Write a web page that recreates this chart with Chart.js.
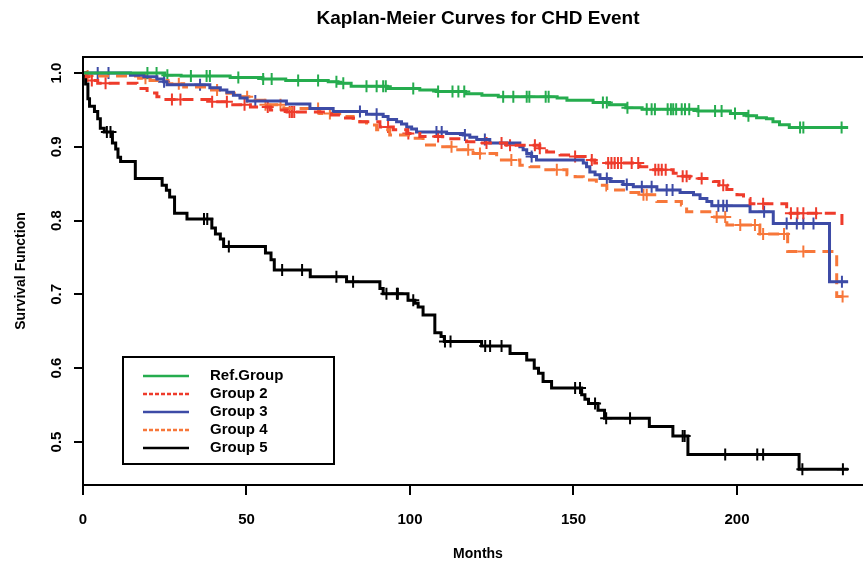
<!DOCTYPE html>
<html>
<head>
<meta charset="utf-8">
<title>Kaplan-Meier Curves for CHD Event</title>
<script src="https://cdn.jsdelivr.net/npm/chart.js@4.4.1/dist/chart.umd.min.js"></script>
<style>
  html, body { margin: 0; padding: 0; background: #fff; overflow: hidden; }
  canvas { display: block; }
</style>
</head>
<body>
<canvas id="kmChart" width="900" height="564"></canvas>
<script>
// tick labels
const xTicks = [0, 50, 100, 150, 200];
const yTicks = [0.5, 0.6, 0.7, 0.8, 0.9, 1.0];

const groupNames = ["Ref.Group", "Group 2", "Group 3", "Group 4", "Group 5"];

// Ref.Group: event times (months), survival after each event, censor times
const refTime = [0, 25, 30, 45, 55, 62, 75, 78, 82, 93, 103, 108, 117, 122, 127, 145, 148, 156, 161, 166, 171, 188, 198, 203, 206, 209, 211, 213, 216, 234];
const refSurv = [1.0, 0.997, 0.996, 0.994, 0.992, 0.990, 0.988, 0.986, 0.982, 0.979, 0.977, 0.975, 0.972, 0.970, 0.968, 0.966, 0.963, 0.960, 0.957, 0.953, 0.951, 0.9485, 0.945, 0.942, 0.9395, 0.938, 0.934, 0.930, 0.926, 0.926];
const refCens = [19.7, 22.5, 25.8, 33, 37.8, 38.8, 47.5, 55.1, 57.7, 65.8, 71.9, 77.5, 79.6, 86.7, 89.8, 91.8, 92.6, 101, 108.6, 113, 114.8, 116.6, 128.5, 131.6, 135.7, 136.5, 141.5, 142.4, 159, 160.2, 166.5, 172.4, 173.9, 174.9, 178.8, 179.8, 180.5, 181.4, 183.1, 184.1, 185.4, 188.2, 193.3, 195.3, 199.4, 203.5, 219.3, 220.3, 232];

// Group 2
const g2Time = [0, 1, 2.5, 4.5, 16.5, 19.6, 22.6, 24.7, 39, 44.5, 51.2, 57.3, 62.4, 76, 79.6, 84.7, 90.8, 94.9, 99, 103, 110, 117.3, 121.4, 129.6, 139.7, 141.8, 145.9, 149, 154.5, 156.5, 170.3, 173, 180.5, 183, 185.6, 192.8, 194.5, 196.9, 200, 202, 204, 215.2, 232.1];
const g2Surv = [1, 0.995, 0.99, 0.986, 0.979, 0.973, 0.968, 0.964, 0.961, 0.957, 0.954, 0.950, 0.947, 0.943, 0.939, 0.934, 0.927, 0.923, 0.918, 0.914, 0.911, 0.907, 0.905, 0.902, 0.898, 0.893, 0.889, 0.887, 0.882, 0.878, 0.873, 0.869, 0.864, 0.860, 0.857, 0.853, 0.848, 0.842, 0.835, 0.830, 0.823, 0.810, 0.785];
const g2Cens = [2.7, 6.9, 27.2, 29.8, 39.5, 44, 49.4, 56.5, 63.2, 63.9, 64.6, 93.3, 99.5, 108.6, 123.4, 128, 130.6, 138.2, 139.7, 150.5, 155.6, 160.6, 161.6, 162.6, 163.6, 164.6, 167.8, 169.8, 175, 176, 177, 178.2, 183.4, 184.6, 189.2, 195.8, 208, 216.5, 218.5, 220.3, 224.2];

// Group 3
const g3Time = [0, 14.5, 18.6, 22.6, 24.7, 25.7, 38.8, 42, 44, 46, 48, 50.2, 62.2, 69.4, 76.5, 86.7, 91.8, 93.3, 95.9, 97.4, 99, 100.5, 102, 111.2, 116.3, 118.3, 120.4, 124.4, 133.6, 134.6, 135.7, 137.2, 138.7, 153, 154, 155, 156.6, 158.1, 161.2, 165.2, 168.3, 175.5, 182.6, 186.7, 188.7, 190.8, 192.3, 204, 211.1, 228.3, 234];
const g3Surv = [1, 0.997, 0.995, 0.992, 0.988, 0.984, 0.980, 0.977, 0.974, 0.970, 0.966, 0.962, 0.958, 0.952, 0.948, 0.944, 0.941, 0.937, 0.934, 0.931, 0.927, 0.924, 0.920, 0.918, 0.916, 0.913, 0.910, 0.905, 0.900, 0.896, 0.891, 0.887, 0.882, 0.878, 0.873, 0.866, 0.862, 0.857, 0.853, 0.849, 0.846, 0.8415, 0.838, 0.835, 0.830, 0.826, 0.820, 0.812, 0.796, 0.717, 0.717];
const g3Cens = [4.5, 7.8, 24.8, 35.8, 52.7, 84.7, 89.8, 108.1, 109.7, 116.8, 122.9, 137.2, 160.2, 166.3, 170.9, 173.9, 178.5, 180.3, 194.3, 195.8, 196.9, 208.3, 215.2, 218.3, 220.3, 223.4, 232.1];

// Group 4
const g4Time = [0, 1.2, 17, 20.5, 26, 30.8, 38, 44, 48.2, 52.2, 55.3, 61.4, 72.4, 78.5, 82.6, 86.7, 89.8, 93.8, 101, 104, 108, 113, 119.3, 126.5, 133.6, 136.7, 141, 148, 150.5, 153, 157, 160.2, 166, 170, 175.5, 183, 184.6, 192.3, 196.9, 207, 215.5, 230.5, 232.3];
const g4Surv = [1, 0.996, 0.993, 0.99, 0.9855, 0.981, 0.977, 0.9725, 0.968, 0.963, 0.957, 0.952, 0.945, 0.941, 0.934, 0.9295, 0.923, 0.916, 0.9115, 0.9024, 0.900, 0.896, 0.891, 0.882, 0.875, 0.873, 0.869, 0.862, 0.8595, 0.855, 0.848, 0.8415, 0.838, 0.835, 0.826, 0.821, 0.812, 0.805, 0.794, 0.782, 0.758, 0.697, 0.697];
const g4Cens = [1.4, 19.1, 29.3, 41, 50.2, 55.8, 60.4, 71.9, 75.5, 112.7, 117.8, 121.4, 131, 144.9, 171.4, 172.4, 193.8, 196.4, 201, 205.5, 208, 214.4, 220.3, 232.3];

// Group 5
const g5Time = [0, 0.8, 1.5, 2.0, 3.5, 4.5, 5.3, 6.5, 9.0, 10.0, 10.7, 11.5, 16.0, 24.2, 25.5, 26.5, 28.0, 31.8, 39.4, 40.5, 42, 43, 55.8, 57.5, 58.5, 69.5, 80.6, 90.8, 91.8, 99.4, 101.5, 102.5, 104, 107.6, 109.5, 110.5, 121.9, 130.6, 135.7, 138, 139.3, 140.7, 143.3, 152.5, 153.5, 154.6, 157.5, 159.5, 173.2, 180.4, 185, 219, 234];
const g5Surv = [1, 0.985, 0.965, 0.955, 0.948, 0.938, 0.925, 0.92, 0.905, 0.897, 0.886, 0.88, 0.857, 0.848, 0.841, 0.832, 0.81, 0.802, 0.79, 0.782, 0.775, 0.765, 0.756, 0.747, 0.733, 0.724, 0.717, 0.708, 0.701, 0.692, 0.688, 0.683, 0.672, 0.648, 0.643, 0.636, 0.63, 0.62, 0.611, 0.6, 0.593, 0.582, 0.573, 0.564, 0.558, 0.552, 0.543, 0.532, 0.521, 0.508, 0.483, 0.463, 0.463];
const g5Cens = [7.3, 8.4, 37, 38, 44.6, 60.9, 67, 77.5, 82.6, 92.8, 96, 96.3, 101, 110.7, 112.4, 123, 124.5, 128, 150.5, 152, 156.6, 160, 167.3, 183.4, 184, 196.4, 206.2, 208, 220, 232.4];

const FONT = '"Liberation Sans", Arial, Helvetica, sans-serif';
Chart.defaults.font.family = FONT;
Chart.defaults.color = "#000";

const groups = [
  { time: refTime, surv: refSurv, cens: refCens, color: "#25AC4E", dash: [] },
  { time: g2Time, surv: g2Surv, cens: g2Cens, color: "#EE3B2B", dash: [11, 7] },
  { time: g3Time, surv: g3Surv, cens: g3Cens, color: "#3D4BA6", dash: [] },
  { time: g4Time, surv: g4Surv, cens: g4Cens, color: "#F7773A", dash: [11, 7] },
  { time: g5Time, surv: g5Surv, cens: g5Cens, color: "#000000", dash: [] },
];

// value of the step function at time t
function survivalAt(times, surv, t) {
  let s = surv[0];
  for (let i = 0; i < times.length; i++) {
    if (times[i] <= t) s = surv[i];
  }
  return s;
}

const datasets = [];
groups.forEach(function (g, i) {
  datasets.push({
    label: groupNames[i],
    data: g.time.map((t, k) => ({ x: t, y: g.surv[k] })),
    borderColor: g.color,
    backgroundColor: g.color,
    borderWidth: 3,
    borderDash: g.dash,
    stepped: true,
    pointRadius: 0,
    fill: false,
    isCurve: true,
  });
});
groups.forEach(function (g, i) {
  datasets.push({
    label: groupNames[i] + " censored",
    data: g.cens.map((t) => ({ x: t, y: survivalAt(g.time, g.surv, t) })),
    showLine: false,
    pointStyle: "cross",
    pointRadius: 6,
    pointBorderWidth: 2,
    pointBorderColor: g.color,
    pointBackgroundColor: g.color,
  });
});

// box around the plot region
const boxPlugin = {
  id: "plotBox",
  afterDatasetsDraw(chart) {
    const a = chart.chartArea;
    const ctx = chart.ctx;
    ctx.save();
    ctx.strokeStyle = "#000";
    ctx.lineWidth = 2;
    ctx.strokeRect(a.left, a.top, a.right - a.left, a.bottom - a.top);
    ctx.restore();
  },
};

// legend box in the lower left, like R's legend()
const legendPlugin = {
  id: "rLegend",
  afterDraw(chart) {
    const ctx = chart.ctx;
    const curves = chart.data.datasets.filter((d) => d.isCurve);
    const bx = 123, by = 357, bw = 211, bh = 107;
    ctx.save();
    ctx.fillStyle = "#fff";
    ctx.fillRect(bx, by, bw, bh);
    ctx.strokeStyle = "#000";
    ctx.lineWidth = 2;
    ctx.strokeRect(bx, by, bw, bh);
    ctx.font = "bold 15px " + FONT;
    ctx.textBaseline = "middle";
    curves.forEach(function (d, i) {
      const y = by + 19 + i * 18;
      ctx.beginPath();
      ctx.strokeStyle = d.borderColor;
      ctx.lineWidth = 2.5;
      ctx.setLineDash(d.borderDash && d.borderDash.length ? [4, 2] : []);
      ctx.moveTo(143, y);
      ctx.lineTo(189, y);
      ctx.stroke();
      ctx.setLineDash([]);
      ctx.fillStyle = "#000";
      ctx.fillText(d.label, 210, y);
    });
    ctx.restore();
  },
};

new Chart(document.getElementById("kmChart"), {
  type: "line",
  data: { datasets: datasets },
  options: {
    responsive: false,
    animation: false,
    layout: { padding: { left: 0, right: 27, top: 0, bottom: 0 } },
    plugins: {
      legend: { display: false },
      tooltip: { enabled: false },
      title: {
        display: true,
        fullSize: false,
        text: "Kaplan-Meier Curves for CHD Event",
        color: "#000",
        font: { size: 19, weight: "bold", lineHeight: 1.2 },
        padding: { top: 7.6, bottom: 26.6 },
      },
    },
    scales: {
      x: {
        type: "linear",
        min: 0,
        max: 241.6,
        afterBuildTicks: (s) => { s.ticks = xTicks.map((v) => ({ value: v })); },
        afterFit: (s) => { s.height = 79; },
        grid: { drawOnChartArea: false, drawTicks: true, tickLength: 10, color: "#000", lineWidth: 2 },
        border: { display: true, color: "#000", width: 2 },
        ticks: { color: "#000", font: { size: 15, weight: "bold" }, padding: 16, maxRotation: 0, autoSkip: false },
        title: { display: true, text: "Months", color: "#000", font: { size: 14, weight: "bold" }, padding: { top: 0, bottom: 1.6 } },
      },
      y: {
        type: "linear",
        min: 0.4417,
        max: 1.0217,
        afterBuildTicks: (s) => { s.ticks = yTicks.map((v) => ({ value: v })); },
        afterFit: (s) => { s.width = 83; },
        grid: { drawOnChartArea: false, drawTicks: true, tickLength: 9, color: "#000", lineWidth: 2 },
        border: { display: true, color: "#000", width: 2 },
        ticks: {
          color: "#000",
          font: { size: 15, weight: "bold" },
          padding: 7,
          minRotation: 90,
          maxRotation: 90,
          crossAlign: "center",
          autoSkip: false,
          callback: (v) => Number(v).toFixed(1),
        },
        title: { display: true, text: "Survival Function", color: "#000", font: { size: 14, weight: "bold" }, padding: { top: 12.6, bottom: 0 } },
      },
    },
  },
  plugins: [boxPlugin, legendPlugin],
});
</script>
</body>
</html>
